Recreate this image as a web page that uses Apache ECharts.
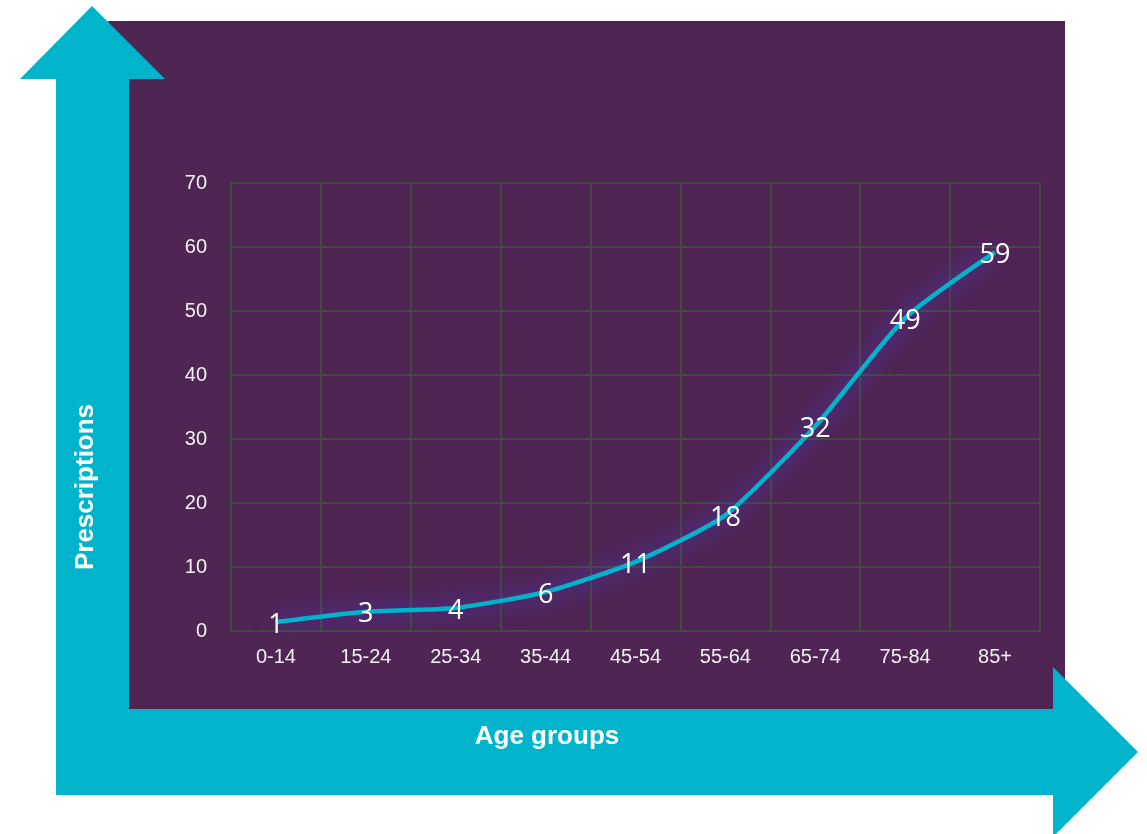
<!DOCTYPE html>
<html>
<head>
<meta charset="utf-8">
<script src="https://cdn.jsdelivr.net/npm/echarts@6/dist/echarts.min.js"></script>
<style>html,body{margin:0;padding:0;background:#fff;}#c{width:1147px;height:834px;}</style>
</head>
<body>
<div id="c"></div>
<script>
const categories = ['0-14','15-24','25-34','35-44','45-54','55-64','65-74','75-84','85+'];
const prescriptions = [1.4, 3.0, 3.6, 6.1, 10.8, 18.1, 32.0, 48.9, 59.2];
const yTicks = { min: 0, max: 70, interval: 10 };
const xTitle = 'Age groups';
const yTitle = 'Prescriptions';

const CYAN = '#00B4CB';
const PURPLE = '#4F2553';
const GRIDC = '#434b40';

const chart = echarts.init(document.getElementById('c'), null, { renderer: 'canvas' });
chart.setOption({
  backgroundColor: '#ffffff',
  animation: false,
  grid: { left: 231, right: 107, top: 183, bottom: 203 },
  graphic: [
    { type: 'rect', z: -20, silent: true, shape: { x: 108, y: 21, width: 957, height: 690 }, style: { fill: PURPLE } },
    { type: 'polygon', z: -10, silent: true,
      shape: { points: [[56,795],[56,79],[20,79],[92,6],[165,79],[129,79],[129,795]] }, style: { fill: CYAN } },
    { type: 'polygon', z: -10, silent: true,
      shape: { points: [[56,709],[1053,709],[1053,667],[1138,752],[1053,837],[1053,795],[56,795]] }, style: { fill: CYAN } },
    { type: 'text', z: 10, silent: true, x: 547, y: 737,
      style: { text: xTitle, fill: '#ffffff', font: 'bold 26px "Liberation Sans", Arial, sans-serif', align: 'center', verticalAlign: 'middle' } },
    { type: 'text', z: 10, silent: true, x: 86, y: 487, rotation: Math.PI / 2,
      style: { text: yTitle, fill: '#ffffff', font: 'bold 26px "Liberation Sans", Arial, sans-serif', align: 'center', verticalAlign: 'middle' } }
  ],
  xAxis: {
    type: 'category',
    data: categories,
    boundaryGap: true,
    axisLine: { show: true, lineStyle: { color: GRIDC, width: 2 } },
    axisTick: { show: false },
    splitLine: { show: true, lineStyle: { color: GRIDC, width: 2 } },
    axisLabel: { color: '#f2f2f2', fontSize: 20, fontFamily: '"Liberation Sans", Arial, sans-serif', margin: 16 }
  },
  yAxis: {
    type: 'value',
    min: yTicks.min, max: yTicks.max, interval: yTicks.interval,
    axisLine: { show: true, lineStyle: { color: GRIDC, width: 2 } },
    axisTick: { show: false },
    splitLine: { show: true, lineStyle: { color: GRIDC, width: 2 } },
    axisLabel: { color: '#f2f2f2', fontSize: 20, fontFamily: '"Liberation Sans", Arial, sans-serif', margin: 24 }
  },
  series: [{
    type: 'line',
    data: prescriptions,
    smooth: 0.2,
    showSymbol: true,
    symbol: 'circle',
    symbolSize: 1,
    itemStyle: { color: 'rgba(0,0,0,0)' },
    lineStyle: { color: CYAN, width: 4.5, shadowColor: 'rgba(75,60,235,1)', shadowBlur: 22 },
    label: {
      show: true,
      position: 'inside',
      offset: [0, 3],
      color: '#ffffff',
      fontSize: 27,
      fontFamily: '"Open Sans", sans-serif',
      formatter: p => Math.round(p.value)
    }
  }]
});
</script>
</body>
</html>
